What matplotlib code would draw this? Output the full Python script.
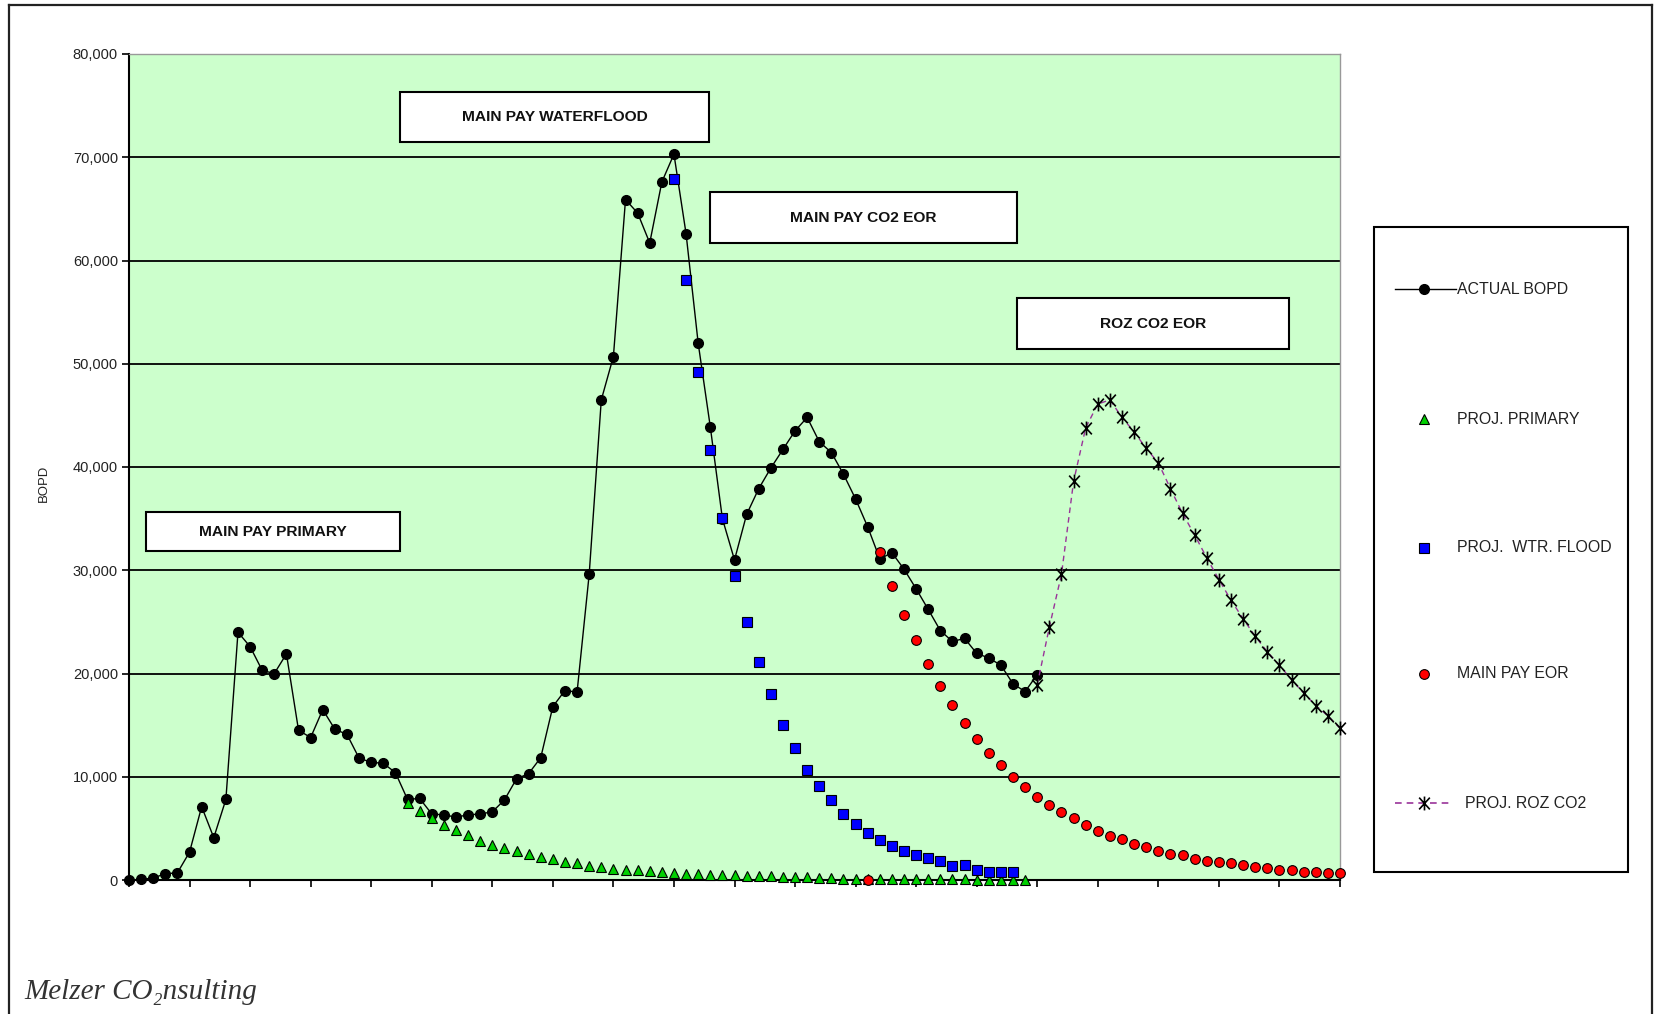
"""Main pay / ROZ production history and projections (BOPD)."""
import matplotlib

matplotlib.use("Agg")
import matplotlib.pyplot as plt
import numpy as np
from matplotlib import font_manager
from matplotlib.lines import Line2D
from matplotlib.patches import Rectangle
from matplotlib.path import Path
from matplotlib.ticker import FuncFormatter

# ---- data (one point per period) ----
actual_start = 0
actual_bopd = [
    0, 50, 200, 600, 700, 2700, 7100, 4100, 7800, 24000,
    22600, 20300, 20000, 21900, 14500, 13800, 16500, 14600, 14100, 11800,
    11400, 11300, 10400, 7800, 7900, 6400, 6300, 6100, 6300, 6400,
    6600, 7750, 9800, 10300, 11850, 16800, 18350, 18200, 29600, 46500,
    50700, 65900, 64600, 61700, 67600, 70300, 62600, 52000, 43900, 35000,
    31000, 35400, 37900, 39900, 41700, 43500, 44800, 42450, 41400, 39300,
    36900, 34200, 31100, 31700, 30100, 28200, 26200, 24150, 23100, 23400,
    21950, 21500, 20800, 19000, 18250, 19900,
]

primary_start = 23
proj_primary = [
    7500, 6700, 6000, 5300, 4850, 4400, 3800, 3400, 3100, 2850,
    2500, 2200, 2000, 1770, 1600, 1400, 1250, 1100, 1000, 950,
    850, 750, 700, 600, 550, 500, 470, 450, 420, 350,
    340, 330, 320, 300, 150, 150, 140, 130, 120, 110,
    100, 100, 90, 80, 70, 60, 50, 40, 40, 30,
    30, 20,
]

wtr_flood_start = 45
proj_wtr_flood = [
    67900, 58100, 49200, 41600, 35100, 29450, 25000, 21150, 18000, 15000,
    12750, 10700, 9100, 7750, 6400, 5450, 4550, 3900, 3300, 2840,
    2450, 2100, 1860, 1400, 1450, 970, 800, 800, 740,
]

eor_start = 61
main_pay_eor = [
    0, 31800, 28500, 25700, 23200, 20900, 18800, 16950, 15250, 13650,
    12300, 11150, 10000, 9000, 8070, 7250, 6600, 5970, 5330, 4750,
    4260, 3940, 3490, 3160, 2840, 2520, 2420, 2030, 1870, 1710,
    1610, 1450, 1290, 1130, 970, 970, 800, 800, 650, 710,
]

roz_start = 75
proj_roz_co2 = [
    18900, 24500, 29600, 38600, 43800, 46100, 46500, 44800, 43400, 41800,
    40400, 37900, 35500, 33400, 31200, 29100, 27100, 25300, 23600, 22100,
    20800, 19400, 18100, 16900, 15900, 14700,
]

n_periods = 100
y_max = 80000

phase_labels = ["MAIN PAY PRIMARY", "MAIN PAY WATERFLOOD",
                "MAIN PAY CO2 EOR", "ROZ CO2 EOR"]
legend_labels = ["ACTUAL BOPD", "PROJ. PRIMARY", "PROJ.  WTR. FLOOD",
                 "MAIN PAY EOR", "PROJ. ROZ CO2"]

# ---- fonts ----
_names = {f.name for f in font_manager.fontManager.ttflist}
if "Liberation Sans Narrow" in _names:
    FONT, SCALE = "Liberation Sans Narrow", 1.0
else:
    FONT, SCALE = "Liberation Sans", 0.82
plt.rcParams["font.family"] = [FONT, "DejaVu Sans"]

W, H = 1657, 1014


def fx(x):
    return x / W


def fy(y):
    return 1 - y / H


def span(start, vals):
    return np.arange(start, start + len(vals))


GREEN = "#00D000"
PURPLE = "#993399"
star = Path([(-1, -1.1), (1, 1.1), (-1, 1.1), (1, -1.1), (0, -1.3), (0, 1.3)],
            [Path.MOVETO, Path.LINETO, Path.MOVETO, Path.LINETO,
             Path.MOVETO, Path.LINETO])

fig = plt.figure(figsize=(W / 100, H / 100), dpi=100, facecolor="white")
ax = fig.add_axes([fx(129), fy(880), fx(1340) - fx(129), fy(54) - fy(880)])
ax.set_facecolor("#CCFFCC")

ax.plot(span(actual_start, actual_bopd), actual_bopd, color="black", lw=1.0,
        marker="o", ms=7, mfc="black", mec="black", clip_on=False, zorder=3)
ax.plot(span(primary_start, proj_primary), proj_primary, ls="none",
        marker="^", ms=7.5, mfc=GREEN, mec="black", mew=0.8, clip_on=False,
        zorder=4)
ax.plot(span(wtr_flood_start, proj_wtr_flood), proj_wtr_flood, ls="none",
        marker="s", ms=7, mfc="#0000FF", mec="black", mew=0.8, clip_on=False,
        zorder=4)
ax.plot(span(eor_start, main_pay_eor), main_pay_eor, ls="none",
        marker="o", ms=7, mfc="#FF0000", mec="black", mew=0.8, clip_on=False,
        zorder=4)
ax.plot(span(roz_start, proj_roz_co2), proj_roz_co2, color=PURPLE, lw=1.0,
        ls=(0, (4, 3)), marker=star, ms=10, mfc="none", mec="black", mew=1.2,
        clip_on=False, zorder=5)

ax.set_xlim(0, n_periods)
ax.set_ylim(0, y_max)
ax.set_xticks(range(0, n_periods + 1, 5))
ax.set_yticks(range(0, y_max + 1, 10000))
ax.yaxis.set_major_formatter(FuncFormatter(lambda v, p: f"{int(v):,}"))
ax.tick_params(axis="x", direction="out", length=5, width=1.2,
               labelbottom=False)
ax.tick_params(axis="y", direction="out", length=5, width=1.2,
               labelsize=12.8 * SCALE, labelcolor="#222", pad=3)
ax.yaxis.grid(True, color="black", lw=1.3)
ax.set_axisbelow(True)
for s in ("left", "bottom"):
    ax.spines[s].set_color("black")
    ax.spines[s].set_linewidth(1.5)
for s in ("top", "right"):
    ax.spines[s].set_color("#999999")
    ax.spines[s].set_linewidth(1.0)

fig.text(fx(44), fy(483), "BOPD", rotation=90, ha="center", va="center",
         fontsize=11.5 * SCALE, color="#222")

# phase boxes (image pixel coords: x0, y0, x1, y1)
boxes = [(146, 512, 400, 551), (400, 92, 709, 142),
         (710, 192, 1017, 243), (1017, 298, 1289, 349)]
for (x0, y0, x1, y1), label in zip(boxes, phase_labels):
    fig.add_artist(Rectangle((fx(x0), fy(y1)), fx(x1) - fx(x0),
                             fy(y0) - fy(y1), transform=fig.transFigure,
                             facecolor="white", edgecolor="black", lw=1.5,
                             zorder=6))
    fig.text(fx((x0 + x1) / 2), fy((y0 + y1) / 2), label, ha="center",
             va="center", fontsize=13.6 * SCALE, weight="bold", color="#111",
             zorder=7)

# legend box drawn by hand to keep Excel's wide spacing
fig.add_artist(Rectangle((fx(1374), fy(872)), fx(1628) - fx(1374),
                         fy(227) - fy(872), transform=fig.transFigure,
                         facecolor="white", edgecolor="black", lw=1.5))
rows = [289, 419, 548, 674, 803]
styles = [
    dict(marker="o", mfc="black", mec="black", ms=7),
    dict(marker="^", mfc=GREEN, mec="black", ms=7.5, mew=0.8),
    dict(marker="s", mfc="#0000FF", mec="black", ms=7, mew=0.8),
    dict(marker="o", mfc="#FF0000", mec="black", ms=7, mew=0.8),
    dict(marker=star, mfc="none", mec="black", ms=10, mew=1.2),
]
for k, (yy, st, label) in enumerate(zip(rows, styles, legend_labels)):
    if k == 0:
        fig.add_artist(Line2D([fx(1395), fx(1456)], [fy(yy)] * 2,
                              color="black", lw=1.0,
                              transform=fig.transFigure))
    if k == 4:
        fig.add_artist(Line2D([fx(1395), fx(1450)], [fy(yy)] * 2,
                              color=PURPLE, lw=1.2, ls=(0, (4, 3)),
                              transform=fig.transFigure))
    fig.add_artist(Line2D([fx(1424)], [fy(yy)], ls="none",
                          transform=fig.transFigure, **st))
    tx = 1465 if k == 4 else 1457
    fig.text(fx(tx), fy(yy), label, ha="left", va="center",
             fontsize=14 * SCALE, color="#222")

# outer frame (bottom edge is cut off in the original)
frame = dict(color="#222", lw=1.6, transform=fig.transFigure)
fig.add_artist(Line2D([fx(9), fx(9)], [fy(5), 0], **frame))
fig.add_artist(Line2D([fx(9), fx(1652)], [fy(5), fy(5)], **frame))
fig.add_artist(Line2D([fx(1652), fx(1652)], [fy(5), 0], **frame))

fig.text(fx(24), fy(992), "Melzer CO\u2082nsulting", ha="left", va="center",
         fontsize=21, style="italic", color="#333",
         family=["Liberation Serif", "DejaVu Serif"])

fig.savefig("out.png", dpi=100, facecolor="white")
plt.close(fig)
